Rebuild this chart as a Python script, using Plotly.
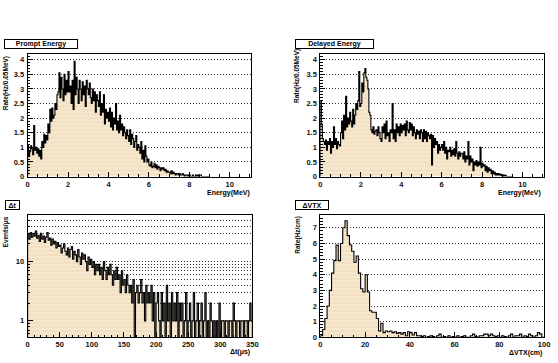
import numpy as np
import plotly.graph_objects as go

# ---------------- data ----------------
prompt_bin_width = 0.05  # MeV
prompt_rate = [1.1, 0.7, 0.85, 1.05, 0.95, 0.75, 1.75, 0.9, 1.0, 0.8,
               0.95, 0.7, 0.9, 0.6, 1.2, 1.0, 1.45, 1.15, 1.4, 1.25,
               1.8, 1.5, 2.3, 1.9, 2.35, 2.0, 2.1, 2.5, 2.3, 2.8,
               2.9, 3.55, 2.7, 3.4, 3.0, 2.6, 3.5, 2.8, 3.3, 2.9,
               3.6, 2.9, 3.1, 2.5, 3.3, 2.3, 3.95, 2.8, 3.4, 3.0,
               2.5, 3.3, 3.0, 2.6, 3.25, 2.8, 3.1, 2.4, 3.3, 3.0,
               2.8, 3.2, 2.7, 2.5, 3.0, 2.6, 2.9, 2.2, 2.8, 2.6,
               2.4, 2.9, 2.1, 2.5, 2.2, 2.8, 1.8, 2.3, 2.0, 2.2,
               1.9, 2.35, 1.7, 2.2, 1.6, 2.0, 1.8, 2.5, 1.6, 1.9,
               1.5, 2.1, 1.6, 1.8, 1.4, 1.7, 1.5, 1.3, 1.6, 1.4,
               1.2, 1.6, 1.1, 1.45, 1.3, 1.0, 1.2, 1.4, 0.9, 1.1,
               1.0, 0.8, 1.2, 0.6, 0.9, 0.5, 1.05, 0.7, 0.5, 0.6,
               0.4, 0.35, 0.5, 0.3, 0.35, 0.45, 0.3, 0.4, 0.25, 0.35,
               0.3, 0.2, 0.3, 0.25, 0.3, 0.2, 0.25, 0.15, 0.2, 0.15,
               0.15, 0.1, 0.2, 0.1, 0.15, 0.1, 0.05, 0.1, 0.1, 0.05,
               0.1, 0.05, 0.05, 0.1, 0.05, 0.0, 0.05, 0.05, 0.0, 0.05,
               0.05, 0.0, 0.0, 0.05, 0.0, 0.0, 0.05, 0.0, 0.05, 0.0,
               0.05, 0.05, 0.0, 0.0, 0.0, 0.0, 0.0, 0.0, 0.0, 0.0]

delayed_bin_width = 0.05  # MeV
delayed_rate = [2.6, 1.8, 1.3, 1.2, 1.1, 1.25, 0.9, 1.2, 1.1, 1.3,
                0.8, 1.2, 1.0, 1.7, 1.1, 1.3, 0.95, 1.2, 1.1, 1.05,
                1.5, 1.9, 1.3, 2.1, 1.6, 2.75, 1.7, 2.0, 1.8, 2.2,
                1.9, 1.7, 2.3, 1.8, 2.1, 2.5, 2.3, 2.6, 3.6, 2.4,
                2.5, 3.2, 2.9, 3.55, 3.7, 3.4, 3.3, 3.0, 2.2, 2.1,
                1.6, 1.5, 1.7, 1.45, 1.55, 1.6, 1.4, 1.7, 1.5, 1.3,
                1.2, 1.7, 1.5, 1.8, 1.3, 1.9, 1.4, 1.5, 1.2, 1.6,
                1.5, 2.5, 1.3, 1.6, 1.2, 1.8, 1.5, 1.7, 1.4, 1.8,
                1.5, 1.75, 1.6, 1.8, 1.4, 1.9, 1.6, 1.5, 1.85, 1.6,
                1.8, 1.4, 1.7, 1.5, 1.3, 1.6, 1.45, 1.55, 1.3, 1.6,
                1.5, 1.2, 1.6, 1.3, 1.55, 1.2, 1.5, 1.4, 1.3, 1.45,
                0.4, 1.4, 1.0, 1.3, 1.1, 1.2, 0.8, 1.1, 0.9, 1.0,
                1.1, 0.9, 1.2, 0.8, 1.0, 0.6, 0.9, 0.85, 1.0, 0.7,
                0.9, 0.75, 0.95, 0.7, 1.2, 0.8, 0.6, 0.85, 0.7, 0.8,
                0.8, 0.6, 0.85, 0.5, 0.7, 0.6, 1.2, 0.4, 0.7, 0.5,
                0.6, 0.2, 0.5, 0.4, 0.55, 0.35, 0.5, 0.4, 1.0, 0.3,
                0.45, 0.35, 0.4, 0.2, 0.35, 0.15, 0.3, 0.2, 0.25, 0.1,
                0.2, 0.1, 0.15, 0.05, 0.1, 0.05, 0.1, 0.05, 0.08, 0.03,
                0.05, 0.0, 0.05, 0.03, 0.0, 0.0, 0.0, 0.0, 0.0, 0.0]

dt_bin_width = 2.0  # us
dt_events = [29, 24, 31, 26, 30, 27, 33, 25, 28, 22,
             30, 24, 27, 21, 26, 31, 23, 25, 19, 24,
             20, 22, 17, 21, 18, 19, 14, 17, 20, 15,
             13, 17, 12, 16, 18, 11, 15, 13, 10, 16,
             12, 9, 14, 11, 13, 10, 7, 12, 9, 11,
             8, 10, 6, 9, 7, 9, 6, 8, 5, 10,
             7, 5, 8, 6, 9, 6, 4, 7, 5, 8,
             5, 6, 3, 7, 4, 5, 3, 6, 4, 3,
             4, 2, 5, 0, 3, 4, 2, 3, 5, 2,
             3, 1, 4, 2, 3, 2, 4, 1, 3, 0,
             2, 3, 1, 0, 3, 1, 2, 0, 4, 1,
             2, 0, 3, 1, 2, 1, 3, 0, 2, 1,
             2, 0, 1, 3, 0, 1, 2, 0, 1, 3,
             0, 1, 2, 0, 1, 2, 0, 1, 3, 0,
             1, 0, 2, 1, 0, 1, 0, 1, 0, 2,
             0, 1, 1, 0, 1, 1, 0, 1, 1, 0,
             2, 1, 0, 1, 1, 0, 1, 1, 0, 1,
             1, 0, 1, 2, 1]

vtx_bin_width = 1.0  # cm
vtx_rate = [0.1, 0.5, 1.2, 2.0, 3.0, 4.1, 4.9, 5.9, 4.9, 6.0,
            7.0, 7.45, 6.5, 5.9, 5.5, 4.8, 5.2, 4.1, 3.1, 2.9,
            4.0, 2.9, 1.7, 1.6, 1.6, 1.2, 0.4, 0.9, 0.3, 0.4,
            0.35, 0.4, 0.3, 0.35, 0.25, 0.3, 0.2, 0.3, 0.1, 0.35,
            0.3, 0.15, 0.3, 0.1, 0.1, 0.05, 0.1, 0.0, 0.05, 0.1,
            0.05, 0.0, 0.1, 0.2, 0.0, 0.05, 0.0, 0.1, 0.0, 0.05,
            0.0, 0.1, 0.0, 0.05, 0.1, 0.0, 0.0, 0.1, 0.2, 0.05,
            0.0, 0.1, 0.1, 0.2, 0.2, 0.1, 0.2, 0.1, 0.05, 0.1,
            0.0, 0.1, 0.05, 0.0, 0.1, 0.2, 0.0, 0.1, 0.1, 0.2,
            0.0, 0.1, 0.05, 0.2, 0.1, 0.0, 0.1, 0.3, 0.2, 0.0]

panel_titles = ["Prompt Energy", "Delayed Energy", "\u0394t", "\u0394VTX"]
x_titles = ["Energy(MeV)", "Energy(MeV)", "\u0394t(\u03bcs)", "\u0394VTX(cm)"]
y_titles = ["Rate(Hz/0.05MeV)", "Rate(Hz/0.05MeV)", "Events/\u03bcs", "Rate(Hz/cm)"]

# ---------------- layout helpers ----------------
W, H = 558, 363
def fx(p):
    return p / W
def fy(p):
    return 1 - p / H

FILL_BG = "#f3e0c3"
FILL_FG = "#fbf2e4"
FONT = "Liberation Sans"
GRID_DASH = "1px,2px"

def step_xy(width, vals, base, log=False):
    edges = np.arange(len(vals) + 1) * width
    v = [(val if val > 0 else base) for val in vals] if log else list(vals)
    x = [edges[0]] + list(edges[:-1]) + [edges[-1], edges[-1]]
    y = [base] + v + [v[-1], base]
    return x, y

fig = go.Figure()

panels = [
    dict(vals=prompt_rate, w=prompt_bin_width, log=False, xr=[0, 11.07], yr=[0, 4.19],
         xd=[26, 253], yd=[55, 179], xdt=2, xminor=0.5, ydt=0.5, yminor=0.1),
    dict(vals=delayed_rate, w=delayed_bin_width, log=False, xr=[0, 11.07], yr=[0, 4.19],
         xd=[323, 550], yd=[55, 179], xdt=2, xminor=0.5, ydt=0.5, yminor=0.1),
    dict(vals=dt_events, w=dt_bin_width, log=True, xr=[0, 350], yr=[-0.278, 1.788],
         xd=[26, 254], yd=[218, 342], xdt=50, xminor=10, ydt=None, yminor=None),
    dict(vals=vtx_rate, w=vtx_bin_width, log=False, xr=[0, 100], yr=[0, 7.82],
         xd=[323, 550], yd=[218, 342], xdt=20, xminor=5, ydt=1, yminor=0.2),
]

tickfont = dict(family=FONT, size=7.5, color="#111", weight="bold")
annotations = []

for i, p in enumerate(panels):
    n = "" if i == 0 else str(i + 1)
    base = 1e-3 if p["log"] else 0
    x, y = step_xy(p["w"], p["vals"], base, p["log"])
    fig.add_trace(go.Scatter(
        x=x, y=y, mode="lines", line=dict(color="black", width=1.1, shape="hv"),
        fill="toself", fillcolor=FILL_BG,
        fillpattern=dict(shape="-", bgcolor=FILL_BG, fgcolor=FILL_FG, size=4, solidity=0.35),
        xaxis="x" + n, yaxis="y" + n, showlegend=False, hoverinfo="skip"))

    xa = dict(domain=[fx(p["xd"][0]), fx(p["xd"][1])], range=p["xr"], anchor="y" + n,
              showline=True, mirror=True, linecolor="black", linewidth=1,
              ticks="inside", ticklen=5, tickcolor="black", dtick=p["xdt"], tick0=0,
              minor=dict(ticks="inside", ticklen=2.5, dtick=p["xminor"], tickcolor="black"),
              showgrid=False, zeroline=False, tickfont=tickfont, ticklabelstandoff=0)
    ya = dict(domain=[fy(p["yd"][1]), fy(p["yd"][0])], range=p["yr"], anchor="x" + n,
              showline=True, mirror=True, linecolor="black", linewidth=1,
              ticks="inside", ticklen=5, tickcolor="black",
              showgrid=True, gridcolor="#333", griddash=GRID_DASH, gridwidth=1,
              zeroline=False, tickfont=tickfont, ticklabelstandoff=1)
    if p["log"]:
        ya.update(type="log", tickvals=[1, 10], ticktext=["1", "10"],
                  minor=dict(ticks="inside", ticklen=2.5, tickcolor="black", dtick="D1",
                             showgrid=True, gridcolor="#333", griddash=GRID_DASH, gridwidth=1))
    else:
        ya.update(dtick=p["ydt"], tick0=0,
                  minor=dict(ticks="inside", ticklen=2.5, dtick=p["yminor"], tickcolor="black"))
    fig.update_layout(**{"xaxis" + n: xa, "yaxis" + n: ya})

# title boxes
boxes = [(2, 40, 72), (297, 40, 77), (3, 203, 13), (297, 203, 32)]
for (bx, by, bw), t in zip(boxes, panel_titles):
    annotations.append(dict(x=fx(bx), y=fy(by), xref="paper", yref="paper",
                            xanchor="left", yanchor="top", text=t, showarrow=False,
                            width=bw, height=8, borderpad=0, bordercolor="black",
                            borderwidth=1, bgcolor="white", align="center",
                            font=dict(family=FONT, size=7, color="black", weight="bold")))

# x titles (right aligned at frame right)
xt_pos = [(254, 190), (549, 190), (254, 351), (550, 352)]
for (px, py), t in zip(xt_pos, x_titles):
    annotations.append(dict(x=fx(px), y=fy(py), xref="paper", yref="paper",
                            xanchor="right", yanchor="top", text=t, showarrow=False,
                            font=dict(family=FONT, size=7, color="black", weight="bold")))

# y titles (rotated, aligned to top)
yt_pos = [(4, 55), (300, 48), (4, 217), (300, 217)]
for (px, py), t in zip(yt_pos, y_titles):
    annotations.append(dict(x=fx(px), y=fy(py), xref="paper", yref="paper",
                            xanchor="center", yanchor="top", text=t, showarrow=False,
                            textangle=-90,
                            font=dict(family=FONT, size=6.5, color="black", weight="bold")))

fig.update_layout(width=W, height=H, autosize=False,
                  margin=dict(l=0, r=0, t=0, b=0),
                  paper_bgcolor="white", plot_bgcolor="white",
                  annotations=annotations, showlegend=False)

fig.write_html("out.html")
